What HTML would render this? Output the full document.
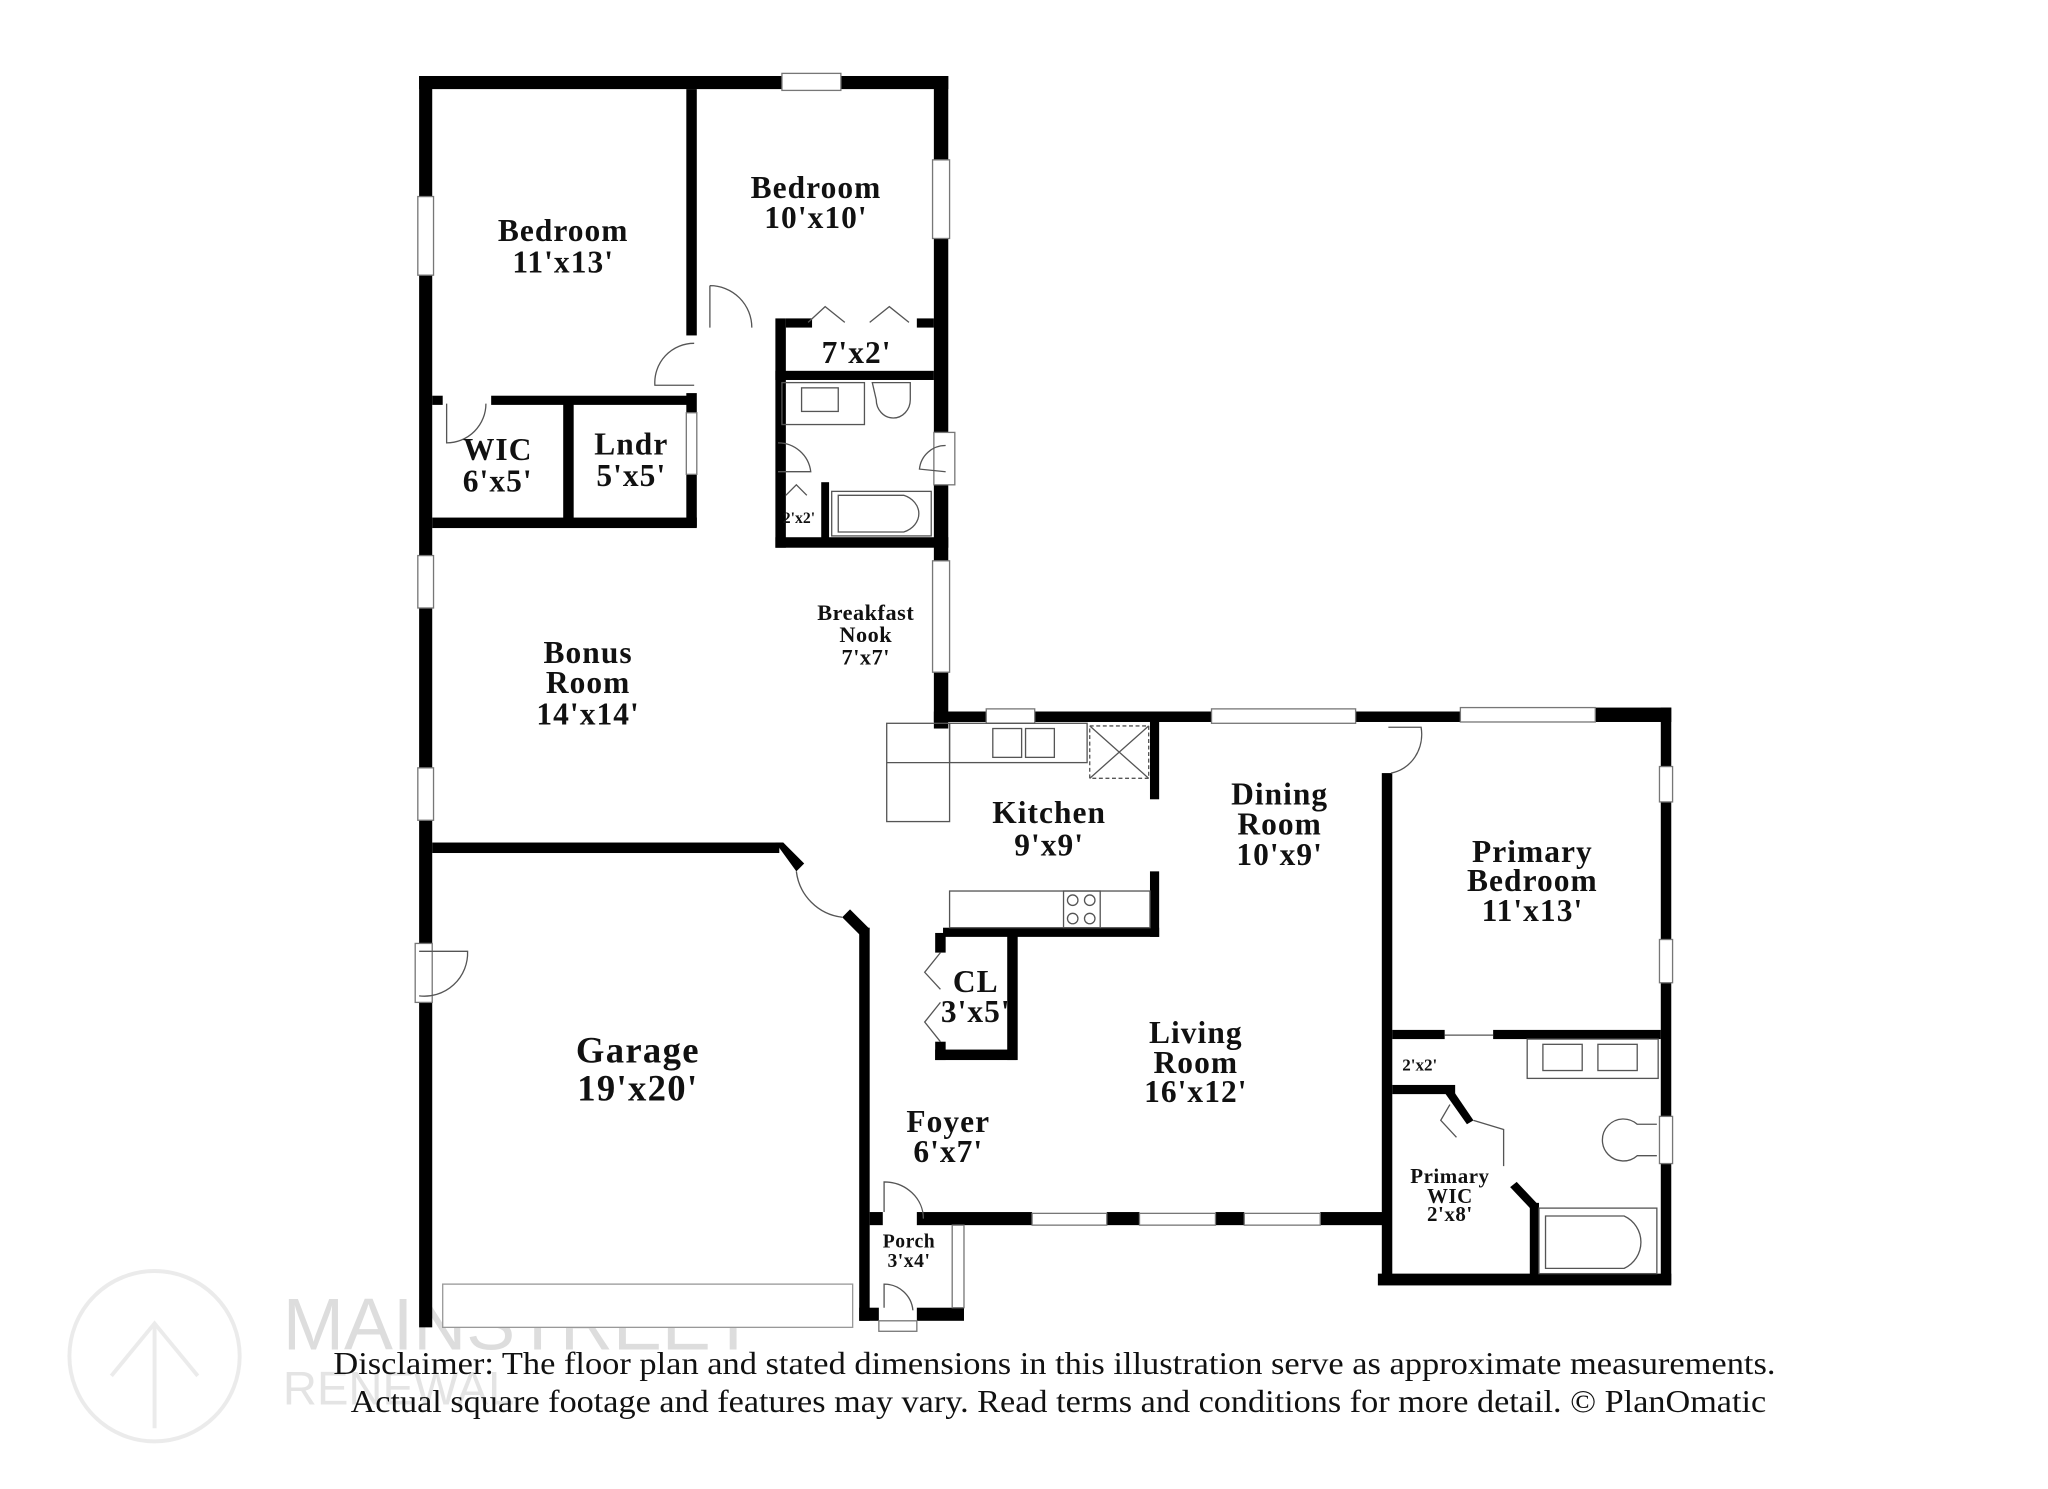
<!DOCTYPE html>
<html><head><meta charset="utf-8"><style>
html,body{margin:0;padding:0;background:#fff;}
svg{display:block;}
text{font-family:"Liberation Serif",serif;font-weight:bold;fill:#111;text-anchor:middle;}
.t{font-size:24px;letter-spacing:0.8px;}
.s{font-size:17px;letter-spacing:0.4px;}
.xs{font-size:12px;}
.d{font-weight:normal;font-size:24px;}
</style></head><body>
<svg width="2048" height="1489" viewBox="0 0 1548 1125" preserveAspectRatio="none" xmlns="http://www.w3.org/2000/svg">
<rect width="1548" height="1125" fill="#fff"/>
<g transform="scale(0.99)">
<g opacity="0.12" fill="none" stroke="#666" stroke-width="3">
<circle cx="118" cy="1035" r="65"/>
<path d="M85 1050 L118 1010 L151 1050 M118 1010 L118 1090"/>
</g>
<text x="216" y="1030" style="font-family:'Liberation Sans',sans-serif;font-weight:normal;font-size:56px;fill:#ddd;text-anchor:start">MAINSTREET</text>
<text x="216" y="1072" style="font-family:'Liberation Sans',sans-serif;font-weight:normal;font-size:36px;fill:#e4e4e4;text-anchor:start">RENEWAL</text>
<g fill="#000">
<rect x="320" y="58" width="404" height="10"/>
<rect x="320" y="58" width="10" height="955"/>
<rect x="713" y="58" width="11" height="498"/>
<rect x="524" y="68" width="8" height="188"/>
<rect x="375" y="302" width="156" height="7"/>
<rect x="330" y="302" width="8" height="7"/>
<rect x="330" y="395" width="202" height="8"/>
<rect x="430" y="308" width="8" height="90"/>
<rect x="524" y="300" width="8" height="15"/>
<rect x="524" y="362" width="8" height="40"/>
<rect x="592" y="243" width="8" height="175"/>
<rect x="600" y="243" width="20" height="7"/>
<rect x="700" y="243" width="13" height="7"/>
<rect x="592" y="283" width="121" height="7"/>
<rect x="592" y="410" width="132" height="8"/>
<rect x="627" y="368" width="6" height="46"/>
<rect x="713" y="543" width="40" height="8"/>
<rect x="790" y="543" width="135" height="8"/>
<rect x="1035" y="543" width="80" height="8"/>
<rect x="1218" y="540" width="58" height="11"/>
<rect x="1268" y="540" width="8" height="45"/>
<rect x="1268" y="612" width="8" height="105"/>
<rect x="1268" y="750" width="8" height="102"/>
<rect x="1268" y="888" width="8" height="92"/>
<rect x="1052" y="972" width="224" height="9"/>
<rect x="1055" y="590" width="8" height="390"/>
<rect x="1063" y="786" width="40" height="7"/>
<rect x="1140" y="786" width="128" height="7"/>
<rect x="1063" y="828" width="48" height="7"/>
<rect x="1168" y="918" width="7" height="58"/>
<path d="M1108 830 L1125 855 L1120 858 L1103 834Z"/>
<path d="M1158 902 L1175 920 L1170 924 L1153 906Z"/>
<rect x="700" y="925" width="88" height="10"/>
<rect x="845" y="925" width="25" height="10"/>
<rect x="928" y="925" width="22" height="10"/>
<rect x="1008" y="925" width="52" height="10"/>
<rect x="878" y="550" width="7" height="60"/>
<rect x="878" y="665" width="7" height="50"/>
<rect x="720" y="708" width="165" height="7"/>
<rect x="714" y="712" width="8" height="15"/>
<rect x="714" y="795" width="8" height="14"/>
<rect x="714" y="801" width="62" height="8"/>
<rect x="769" y="712" width="8" height="97"/>
<rect x="330" y="643" width="265" height="8"/>
<path d="M592 643 L598 643 L614 659 L608 665 Z"/>
<path d="M643 700 L649 694 L664 709 L658 715 Z"/>
<rect x="656" y="708" width="8" height="300"/>
<rect x="656" y="998" width="15" height="10"/>
<rect x="700" y="998" width="36" height="10"/>
<rect x="664" y="925" width="10" height="10"/>
</g>
<g fill="#fff" stroke="#777" stroke-width="1">
<rect x="597" y="56" width="45" height="13"/>
<rect x="712" y="122" width="13" height="60"/>
<rect x="319" y="150" width="12" height="60"/>
<rect x="319" y="424" width="12" height="40"/>
<rect x="319" y="586" width="12" height="40"/>
<rect x="712" y="428" width="13" height="85"/>
<rect x="753" y="541" width="37" height="11"/>
<rect x="925" y="541" width="110" height="11"/>
<rect x="1115" y="540" width="103" height="11"/>
<rect x="1267" y="585" width="10" height="27"/>
<rect x="1267" y="717" width="10" height="33"/>
<rect x="1267" y="852" width="10" height="36"/>
<rect x="788" y="926" width="57" height="9"/>
<rect x="870" y="926" width="58" height="9"/>
<rect x="950" y="926" width="58" height="9"/>
<rect x="524" y="315" width="8" height="47"/>
<rect x="713" y="330" width="16" height="40"/>
<rect x="727" y="935" width="9" height="63"/>
<rect x="317" y="720" width="13" height="45"/>
<rect x="338" y="980" width="313" height="33" stroke="#999"/>
<rect x="671" y="1008" width="29" height="8"/>
</g>
<g fill="none" stroke="#555" stroke-width="1">
<path d="M542 218 L542 250 M542 218 A32 32 0 0 1 574 250"/>
<path d="M530 262 A30 30 0 0 0 500 294 L530 294"/>
<path d="M341 308 L341 338 A30 30 0 0 0 371 308"/>
<path d="M617 246 L630 234 L645 246 M664 246 L679 234 L694 246"/>
<path d="M594 338 A25 25 0 0 1 619 360 L594 360"/>
<path d="M722 340 A20 20 0 0 0 702 358 L722 360"/>
<path d="M600 378 L608 370 L616 378"/>
<rect x="597" y="292" width="63" height="32"/><rect x="612" y="296" width="28" height="18"/>
<path d="M666 292 L695 292 L695 305 A13 14 0 1 1 669 305 Z"/>
<rect x="635" y="375" width="76" height="34"/><path d="M640 378 L690 378 A18 15 0 0 1 690 406 L640 406Z"/>
<rect x="677" y="552" width="48" height="75"/><path d="M677 582 L725 582"/>
<rect x="725" y="552" width="105" height="30"/>
<rect x="758" y="556" width="22" height="22"/><rect x="783" y="556" width="22" height="22"/>
<rect x="832" y="554" width="45" height="40" stroke-dasharray="3 2"/><path d="M832 554 L877 594 M877 554 L832 594"/>
<rect x="725" y="680" width="153" height="28"/><rect x="812" y="680" width="28" height="28"/>
<circle cx="819" cy="687" r="4"/><circle cx="832" cy="687" r="4"/><circle cx="819" cy="701" r="4"/><circle cx="832" cy="701" r="4"/>
<path d="M718 727 L706 742 L718 755 M718 765 L706 780 L718 795"/>
<path d="M1060 555 L1085 555 A28 30 0 0 1 1062 590"/>
<path d="M608 665 A40 40 0 0 0 643 700"/>
<path d="M320 726 L357 726 A33 33 0 0 1 320 760"/>
<path d="M675 925 L675 902 A30 28 0 0 1 705 930"/>
<path d="M675 998 L675 980 A22 22 0 0 1 697 1000"/>
<path d="M1103 790 L1140 790"/>
<path d="M1107 843 L1100 855 L1112 868"/>
<path d="M1125 855 L1148 862 L1148 890"/>
<rect x="1166" y="793" width="100" height="30"/>
<rect x="1178" y="797" width="30" height="20"/><rect x="1220" y="797" width="30" height="20"/>
<path d="M1265 858 L1250 858 A16 16 0 1 0 1250 882 L1265 882"/>
<rect x="1175" y="922" width="90" height="50"/><path d="M1180 928 L1240 928 A22 22 0 0 1 1240 968 L1180 968Z"/>
</g>
<text class="t" x="430" y="184">Bedroom</text><text class="t" x="430" y="208">11'x13'</text>
<text class="t" x="623" y="151">Bedroom</text><text class="t" x="623" y="174">10'x10'</text>
<text class="t" x="654" y="277">7'x2'</text>
<text class="t" x="380" y="351">WIC</text><text class="t" x="380" y="375">6'x5'</text>
<text class="t" x="482" y="347">Lndr</text><text class="t" x="482" y="371">5'x5'</text>
<text class="xs" x="610" y="399">2'x2'</text>
<text class="s" x="661" y="473">Breakfast</text><text class="s" x="661" y="490">Nook</text><text class="s" x="661" y="507">7'x7'</text>
<text class="t" x="449" y="506">Bonus</text><text class="t" x="449" y="529">Room</text><text class="t" x="449" y="553">14'x14'</text>
<text class="t" x="801" y="628">Kitchen</text><text class="t" x="801" y="653">9'x9'</text>
<text class="t" x="977" y="614">Dining</text><text class="t" x="977" y="637">Room</text><text class="t" x="977" y="660">10'x9'</text>
<text class="t" x="1170" y="658">Primary</text><text class="t" x="1170" y="680">Bedroom</text><text class="t" x="1170" y="703">11'x13'</text>
<text class="t" x="745" y="757">CL</text><text class="t" x="745" y="780">3'x5'</text>
<text class="t" x="913" y="796">Living</text><text class="t" x="913" y="819">Room</text><text class="t" x="913" y="841">16'x12'</text>
<text class="t" x="487" y="811" style="font-size:28px;letter-spacing:1px">Garage</text><text class="t" x="487" y="840" style="font-size:28px;letter-spacing:1px">19'x20'</text>
<text class="t" x="724" y="864">Foyer</text><text class="t" x="724" y="887">6'x7'</text>
<text class="xs" x="1084" y="817" style="font-size:13px">2'x2'</text>
<text class="s" x="1107" y="903" style="font-size:16px">Primary</text><text class="s" x="1107" y="918" style="font-size:16px">WIC</text><text class="s" x="1107" y="932" style="font-size:16px">2'x8'</text>
<text class="s" x="694" y="952" style="font-size:15px">Porch</text><text class="s" x="694" y="967" style="font-size:15px">3'x4'</text>
</g>
<text class="d" x="797" y="1038" textLength="1090" lengthAdjust="spacingAndGlyphs">Disclaimer: The floor plan and stated dimensions in this illustration serve as approximate measurements.</text>
<text class="d" x="800" y="1067" textLength="1070" lengthAdjust="spacingAndGlyphs">Actual square footage and features may vary. Read terms and conditions for more detail. © PlanOmatic</text>
</svg>
</body></html>
